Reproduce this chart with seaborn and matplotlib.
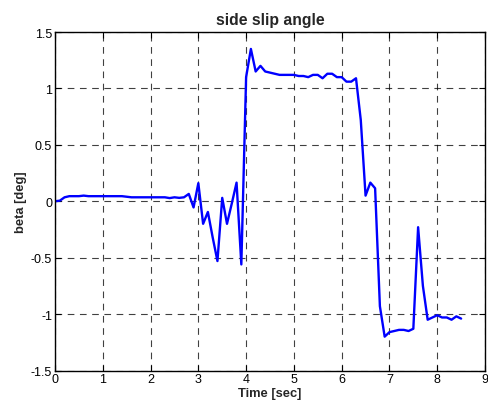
import numpy as np
import pandas as pd
import seaborn as sns
import matplotlib
matplotlib.use("Agg")
import matplotlib.pyplot as plt

time_sec = [round(0.1 * i, 1) for i in range(86)]
beta_deg = [
    0.0, 0.005, 0.035, 0.045, 0.045, 0.045, 0.05, 0.045, 0.045, 0.045,
    0.045, 0.045, 0.045, 0.045, 0.045, 0.04, 0.035, 0.035, 0.035, 0.035,
    0.035, 0.035, 0.035, 0.035, 0.028, 0.035, 0.03, 0.035, 0.065, -0.055,
    0.16, -0.2, -0.095, -0.32, -0.53, 0.03, -0.2, -0.02, 0.165, -0.56,
    1.1, 1.35, 1.15, 1.2, 1.15, 1.14, 1.13, 1.12, 1.12, 1.12,
    1.12, 1.11, 1.11, 1.1, 1.12, 1.12, 1.09, 1.13, 1.13, 1.1,
    1.1, 1.06, 1.06, 1.09, 0.72, 0.05, 0.165, 0.115, -0.93, -1.2,
    -1.16, -1.15, -1.14, -1.14, -1.15, -1.13, -0.23, -0.75, -1.05, -1.03,
    -1.01, -1.03, -1.03, -1.05, -1.02, -1.04,
]
x_ticks = [0, 1, 2, 3, 4, 5, 6, 7, 8, 9]
y_ticks = [-1.5, -1, -0.5, 0, 0.5, 1, 1.5]
y_tick_labels = ["-1.5", "-1", "-0.5", "0", "0.5", "1", "1.5"]

df = pd.DataFrame({"time": time_sec, "beta": beta_deg})

sns.set_style("ticks")
plt.rcParams["font.family"] = ["Liberation Sans", "DejaVu Sans"]

fig = plt.figure(figsize=(4.88, 4.10), dpi=100)
ax = fig.add_axes([55 / 488, 1 - 371.5 / 410, 430 / 488, 338.5 / 410])

sns.lineplot(data=df, x="time", y="beta", ax=ax, color="#0000ff", linewidth=1.7)

ax.set_xlim(0, 9)
ax.set_ylim(-1.5, 1.5)
ax.set_xticks(x_ticks)
ax.set_yticks(y_ticks)
ax.set_yticklabels(y_tick_labels)
ax.tick_params(direction="in", length=4, width=0.8, labelsize=9, colors="black", pad=2,
               top=True, right=True)
ax.grid(True, color="black", linestyle=(0, (6, 5)), linewidth=0.8, alpha=0.75)
for s in ax.spines.values():
    s.set_visible(True)
    s.set_color("black")
    s.set_linewidth(1.0)

ax.set_title("side slip angle", fontsize=11.3, fontweight="bold", pad=6)
ax.set_xlabel("Time [sec]", fontsize=9.3, fontweight="bold", labelpad=1)
ax.set_ylabel("beta [deg]", fontsize=9.3, fontweight="bold", labelpad=3)

fig.savefig("out.png", dpi=100)
